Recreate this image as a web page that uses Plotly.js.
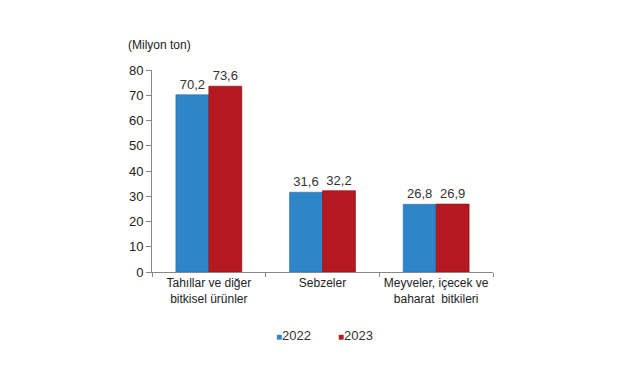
<!DOCTYPE html>
<html>
<head>
<meta charset="utf-8">
<script src="https://cdn.plot.ly/plotly-3.0.1.min.js"></script>
<style>html,body{margin:0;padding:0;background:#fff}#chart{width:633px;height:375px}</style>
</head>
<body>
<div id="chart"></div>
<script>
var categories = ["Tahıllar ve diğer<br>bitkisel ürünler", "Sebzeler", "Meyveler, içecek ve<br>baharat  bitkileri"];
var values2022 = [70.2, 31.6, 26.8];
var values2023 = [73.6, 32.2, 26.9];
var labels2022 = ["70,2", "31,6", "26,8"];
var labels2023 = ["73,6", "32,2", "26,9"];
var seriesNames = ["2022", "2023"];
var seriesColors = ["#2E86C9", "#B5191F"];
var yTicks = [0, 10, 20, 30, 40, 50, 60, 70, 80];

var fam = "Liberation Sans, Arial, sans-serif";

var traces = [
  {type: "bar", name: seriesNames[0], x: categories, y: values2022, text: labels2022,
   textposition: "outside", cliponaxis: false, textfont: {family: fam, size: 13, color: "#333"},
   marker: {color: seriesColors[0], line: {color: "#2a6fa6", width: 0.6}}, hoverinfo: "none", showlegend: false},
  {type: "bar", name: seriesNames[1], x: categories, y: values2023, text: labels2023,
   textposition: "outside", cliponaxis: false, textfont: {family: fam, size: 13, color: "#333"},
   marker: {color: seriesColors[1], line: {color: "#7a1014", width: 0.6}}, hoverinfo: "none", showlegend: false}
];

var legendAnn = seriesNames.map(function (n, i) {
  return {text: '<span style="color:' + seriesColors[i] + ';font-size:10px">■</span>' + n,
          xref: "paper", yref: "paper", x: [0.416, 0.598][i], y: -0.312,
          xanchor: "center", yanchor: "middle", showarrow: false,
          font: {family: fam, size: 13, color: "#333"}};
});

var layout = {
  width: 633, height: 375,
  margin: {l: 152, r: 140, t: 70, b: 103},
  paper_bgcolor: "#fff", plot_bgcolor: "#fff",
  font: {family: fam, size: 12, color: "#222"},
  barmode: "group", bargap: 0.42, bargroupgap: 0,
  showlegend: false,
  annotations: [{text: "(Milyon ton)", xref: "paper", yref: "paper", x: -0.075, y: 1.0,
                 xanchor: "left", yanchor: "bottom", yshift: 16, showarrow: false,
                 font: {size: 12, color: "#222"}}].concat(legendAnn),
  xaxis: {showline: true, linecolor: "#888", linewidth: 1, ticks: "outside", tickson: "boundaries",
          ticklen: 4, tickcolor: "#888", showgrid: false, tickangle: 0,
          tickfont: {size: 12, color: "#222"}, fixedrange: true},
  yaxis: {range: [0, 80], tickvals: yTicks, showline: true, linecolor: "#888", linewidth: 1,
          ticks: "outside", ticklen: 5, tickcolor: "#888", showgrid: false, zeroline: false,
          tickfont: {size: 13, color: "#222"}, fixedrange: true}
};

Plotly.newPlot("chart", traces, layout, {displayModeBar: false, staticPlot: true});
</script>
</body>
</html>
